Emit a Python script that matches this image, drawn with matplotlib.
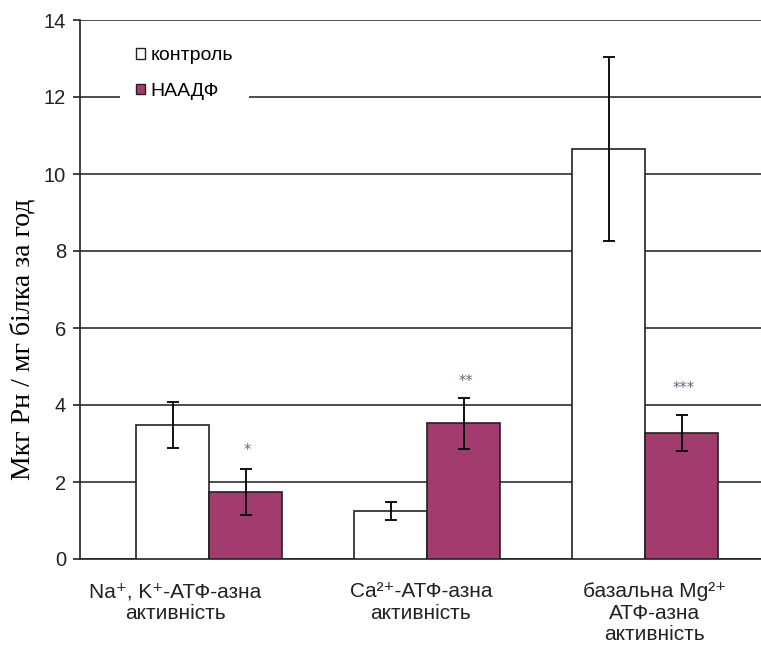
import matplotlib
matplotlib.use("Agg")
import matplotlib.pyplot as plt
import numpy as np
from matplotlib.patches import Patch

categories = ["Na⁺, K⁺-АТФ-азна\nактивність",
              "Ca²⁺-АТФ-азна\nактивність",
              "базальна Mg²⁺\nАТФ-азна\nактивність"]
control_vals = [3.48, 1.25, 10.65]
control_err = [0.59, 0.23, 2.40]
naadf_vals = [1.74, 3.53, 3.27]
naadf_err = [0.59, 0.66, 0.47]
stars = ["*", "**", "***"]
star_y = [2.82, 4.62, 4.42]
yticks = [0, 2, 4, 6, 8, 10, 12, 14]
series_names = ["контроль", "НААДФ"]

purple = "#A33C6E"
grid_c = "#3f3f3f"
sans = ["Liberation Sans", "DejaVu Sans"]

fig = plt.figure(figsize=(7.61, 6.5), dpi=100)
ax = fig.add_axes([80/761, 91/650, 1 - 80/761, (559-20)/650])

x = np.arange(len(categories))
w = 0.335
ekw = dict(ecolor="black", elinewidth=1.3, capsize=4, capthick=1.3)
ax.bar(x - w/2, control_vals, w, color="white", edgecolor="#222222", linewidth=1.2,
       yerr=control_err, error_kw=ekw, zorder=3)
ax.bar(x + w/2, naadf_vals, w, color=purple, edgecolor="#222222", linewidth=1.2,
       yerr=naadf_err, error_kw=ekw, zorder=3)

for i, (s, yy) in enumerate(zip(stars, star_y)):
    ax.text(x[i] + w/2 + 0.01, yy, s, ha="center", va="center", fontsize=10.5,
            color="#5b6b80", zorder=4)

ax.set_xlim(-0.592, 2.532)
ax.set_ylim(0, 14)
ax.set_yticks(yticks)
ax.yaxis.grid(True, color=grid_c, linewidth=1.3, zorder=0)
ax.set_axisbelow(True)
for side in ["top", "right"]:
    ax.spines[side].set_visible(False)
for side in ["left", "bottom"]:
    ax.spines[side].set_color("#222222")
    ax.spines[side].set_linewidth(1.2)
ax.tick_params(axis="y", direction="out", length=5, width=1.2, labelsize=14.5,
               colors="#222222", pad=5)
for lab in ax.get_yticklabels():
    lab.set_fontfamily(sans)
ax.set_xticks([])

label_dx = [-0.156, -0.028, 0.045]
for i, c in enumerate(categories):
    ax.text(x[i] + label_dx[i], -0.6, c, ha="center", va="top", fontsize=15,
            family=sans, color="#222222", linespacing=1.17,
            transform=ax.transData)

ax.set_ylabel("Мкг Рн / мг білка за год", family=["Liberation Serif", "DejaVu Serif"],
              fontsize=20)
ax.yaxis.set_label_coords(-0.065, 0.408)

handles = [Patch(facecolor="white", edgecolor="#222222", linewidth=1.0),
           Patch(facecolor=purple, edgecolor="#222222", linewidth=1.0)]
leg = ax.legend(handles, series_names, loc="upper left", bbox_to_anchor=(0.059, 0.978),
                frameon=True, fancybox=False, edgecolor="none", facecolor="white",
                framealpha=1, handlelength=0.46, handleheight=0.46, handletextpad=0.3,
                labelspacing=0.95, borderpad=0.8, borderaxespad=0,
                prop={"family": sans, "size": 14})
leg.set_zorder(5)

fig.savefig("out.png", dpi=100)
